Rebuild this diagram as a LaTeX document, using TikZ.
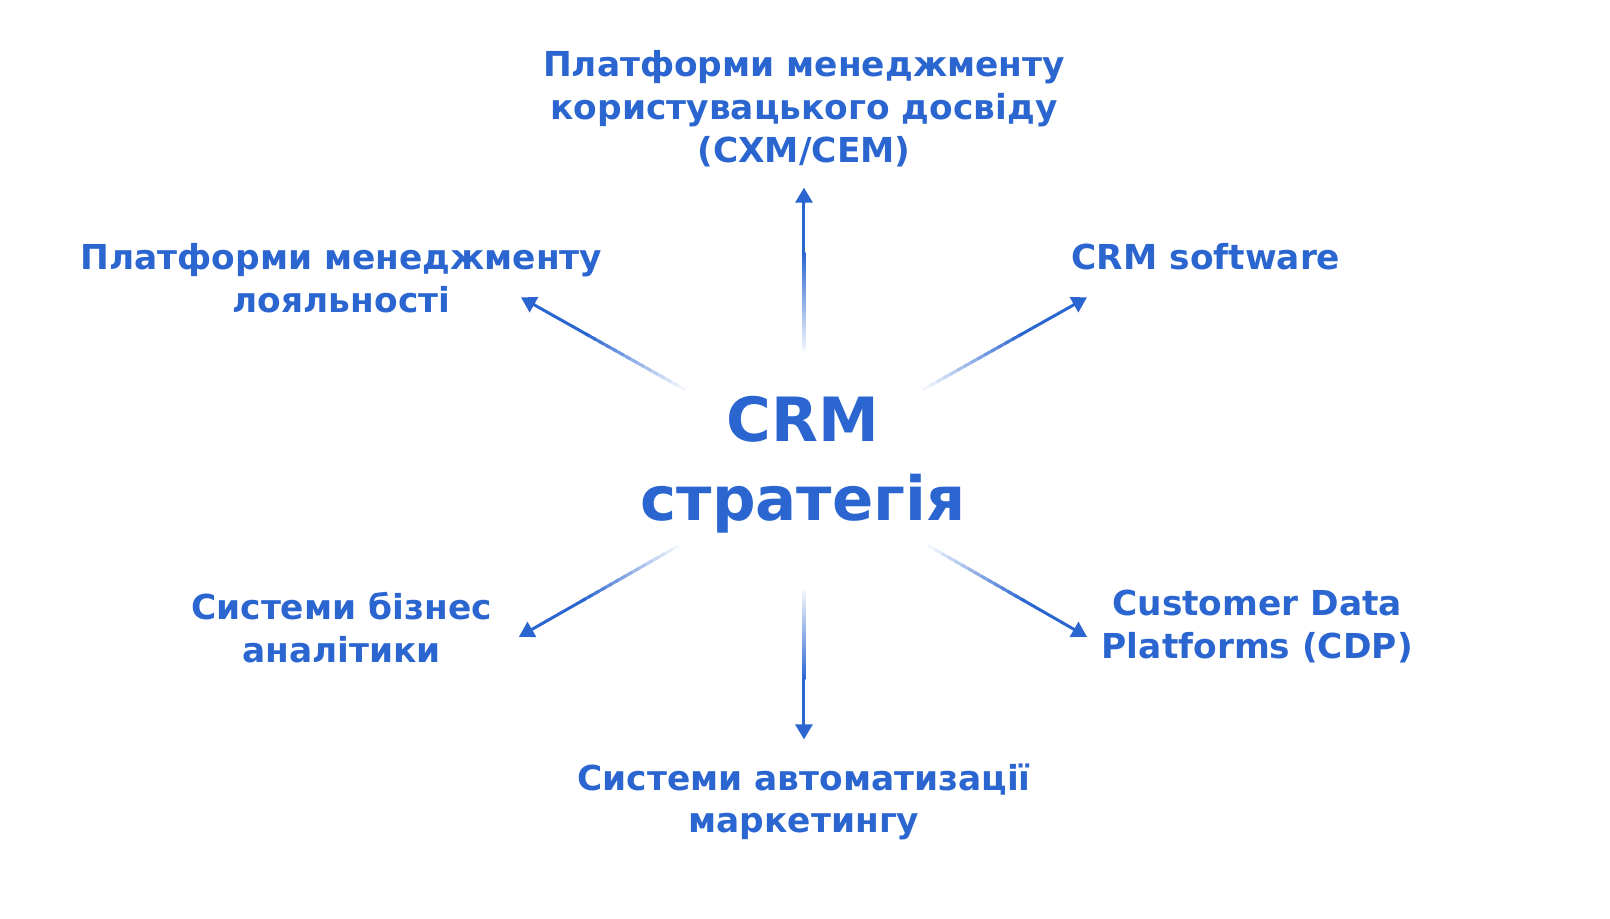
\documentclass[tikz,border=0pt]{standalone}
\usepackage{fontspec}
\setmainfont{DejaVu Sans}[BoldFont={DejaVu Sans Bold}]
\usetikzlibrary{arrows.meta,calc}
\definecolor{crmblue}{RGB}{43,102,208}
\colorlet{crmpale}{crmblue!5!white}
\tikzset{
  lbl/.style={text=crmblue, font=\bfseries\fontsize{17.2}{21.3}\selectfont, align=center, inner sep=0pt},
  center label/.style={text=crmblue, font=\bfseries\fontsize{30.5}{39.5}\selectfont, align=center, inner sep=0pt},
  seg/.style={line width=1.5pt},
  tipseg/.style={line width=1.5pt, draw=crmblue, -{Triangle[length=7.5pt,width=8.5pt]}},
}
% diagonal connectors: faded segments then solid tip
\newcommand{\gradarrow}[2]{%
  \foreach \i in {0,...,13}{%
    \pgfmathsetmacro{\pct}{6+\i*94/14}%
    \draw[seg, draw=crmblue!\pct!white] ($(#1)!{\i/24}!(#2)$) -- ($(#1)!{(\i+1.6)/24}!(#2)$);
  }%
  \draw[tipseg] ($(#1)!{14/24}!(#2)$) -- (#2);
}
\begin{document}
\begin{tikzpicture}[x=0.5128pt,y=-0.5128pt]
\useasboundingbox (0,0) rectangle (1570,896);
\node[center label] (crm) at (783,453) {CRM\\стратегія};
\node[lbl] (cxm) at (784,106) {Платформи менеджменту\\користувацького досвіду\\(CXM/CEM)};
\node[lbl] (loy) at (333,271) {Платформи менеджменту\\лояльності};
\node[lbl] (soft) at (1176,250) {CRM software};
\node[lbl] (bi) at (333,612) {Системи бізнес\\аналітики};
\node[lbl] (mkt) at (784,782) {Системи автоматизації\\маркетингу};
\node[lbl] (cdp) at (1226,611) {Customer Data\\Platforms (CDP)};
% connector end points
\coordinate (s1) at (784,342);  \coordinate (e1) at (784,183);
\coordinate (s2) at (668,380);  \coordinate (e2) at (508,290);
\coordinate (s3) at (900,380);  \coordinate (e3) at (1060,290);
\coordinate (s4) at (662,532);  \coordinate (e4) at (506,621);
\coordinate (s5) at (905,532);  \coordinate (e5) at (1060,621);
\coordinate (s6) at (784,575);  \coordinate (e6) at (784,721);
% vertical connectors: shaded body, solid body, arrow tip
\shade[bottom color=crmpale, top color=crmblue]
  ($(s1)+(-0.75pt,0)$) rectangle ($(s1)!0.6!(e1)+(0.75pt,0)$);
\fill[crmblue] ($(s1)!0.59!(e1)+(-0.75pt,0)$) rectangle ($(s1)!0.93!(e1)+(0.75pt,0)$);
\draw[tipseg] ($(s1)!0.9!(e1)$) -- (e1);
\shade[top color=crmpale, bottom color=crmblue]
  ($(s6)+(-0.75pt,0)$) rectangle ($(s6)!0.6!(e6)+(0.75pt,0)$);
\fill[crmblue] ($(s6)!0.59!(e6)+(-0.75pt,0)$) rectangle ($(s6)!0.93!(e6)+(0.75pt,0)$);
\draw[tipseg] ($(s6)!0.9!(e6)$) -- (e6);
\gradarrow{s2}{e2}
\gradarrow{s3}{e3}
\gradarrow{s4}{e4}
\gradarrow{s5}{e5}
\end{tikzpicture}
\end{document}
